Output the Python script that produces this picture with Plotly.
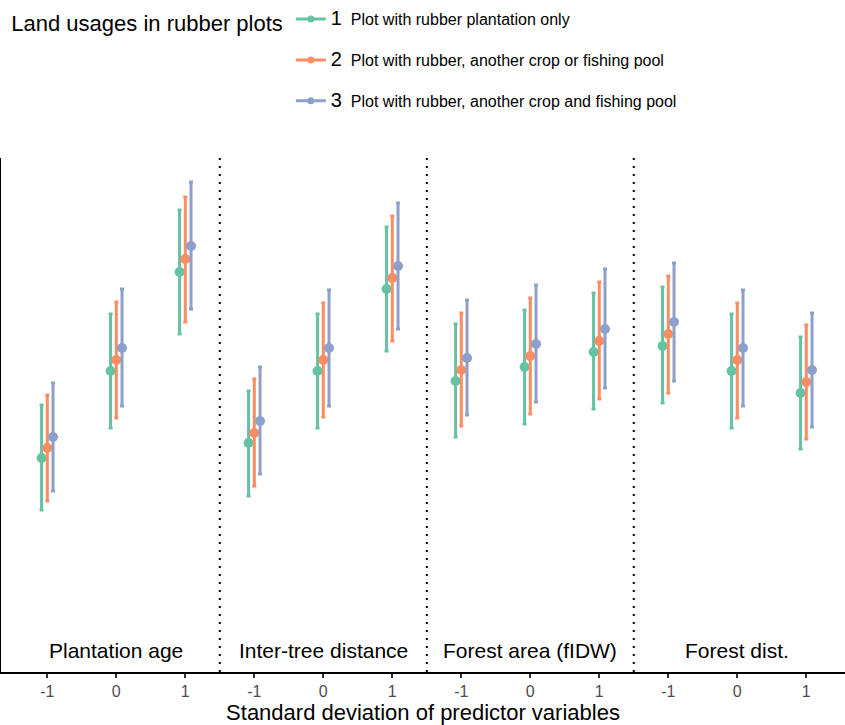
import plotly.graph_objects as go

# Predictor panels and standardised levels
predictors = ["Plantation age", "Inter-tree distance", "Forest area (fIDW)", "Forest dist."]
levels = ["-1", "0", "1"]

# Land-usage groups
group_names = [
    "Plot with rubber plantation only",
    "Plot with rubber, another crop or fishing pool",
    "Plot with rubber, another crop and fishing pool",
]
group_colors = ["#66c2a5", "#fc8d62", "#8da0cb"]

# Predicted means and 95% interval bounds, ordered panel by panel (-1, 0, 1)
mean_g1 = [2.14, 3.01, 4.00, 2.29, 3.01, 3.83, 2.91, 3.05, 3.20, 3.26, 3.01, 2.79]
low_g1 = [1.62, 2.44, 3.38, 1.76, 2.44, 3.21, 2.35, 2.48, 2.63, 2.69, 2.44, 2.23]
high_g1 = [2.67, 3.58, 4.62, 2.81, 3.58, 4.45, 3.48, 3.62, 3.79, 3.85, 3.58, 3.35]

mean_g2 = [2.24, 3.12, 4.13, 2.39, 3.12, 3.94, 3.02, 3.16, 3.31, 3.38, 3.12, 2.90]
low_g2 = [1.71, 2.54, 3.50, 1.86, 2.55, 3.31, 2.46, 2.58, 2.73, 2.79, 2.54, 2.33]
high_g2 = [2.77, 3.70, 4.75, 2.93, 3.69, 4.56, 3.59, 3.74, 3.90, 3.96, 3.69, 3.47]

mean_g3 = [2.35, 3.24, 4.26, 2.51, 3.24, 4.06, 3.14, 3.28, 3.43, 3.50, 3.24, 3.02]
low_g3 = [1.81, 2.66, 3.63, 1.98, 2.66, 3.43, 2.57, 2.70, 2.84, 2.91, 2.66, 2.45]
high_g3 = [2.89, 3.83, 4.90, 3.05, 3.82, 4.69, 3.72, 3.87, 4.03, 4.09, 3.82, 3.59]

means = [mean_g1, mean_g2, mean_g3]
lows = [low_g1, low_g2, low_g3]
highs = [high_g1, high_g2, high_g3]

FONT = "Liberation Sans, Arial, Helvetica, sans-serif"
n_pos = len(predictors) * len(levels)
positions = list(range(n_pos))
dodge = [-0.083, 0.0, 0.083]

fig = go.Figure()

for g in range(3):
    xs = [p + dodge[g] for p in positions]
    m = means[g]
    fig.add_trace(go.Scatter(
        x=xs, y=m, mode="markers",
        marker=dict(color=group_colors[g], size=10),
        error_y=dict(
            type="data", symmetric=False,
            array=[h - v for h, v in zip(highs[g], m)],
            arrayminus=[v - l for l, v in zip(lows[g], m)],
            color=group_colors[g], thickness=3, width=2,
        ),
        showlegend=False, hoverinfo="skip",
    ))

# Legend keys: short line with a point, one entry per land-usage group
for g in range(3):
    fig.add_trace(go.Scatter(
        x=[None], y=[None], mode="lines+markers",
        line=dict(color=group_colors[g], width=3),
        marker=dict(color=group_colors[g], size=7),
        name=f"<span style='font-size:20px'>{g + 1}</span>&nbsp;&nbsp;{group_names[g]}",
        legendgroup=f"g{g + 1}",
    ))

# Dotted separators between predictor panels
for k in range(1, len(predictors)):
    fig.add_shape(
        type="line", xref="x", yref="paper",
        x0=3 * k - 0.5, x1=3 * k - 0.5, y0=0, y1=1,
        line=dict(color="black", width=2, dash="2px,6px"),
    )

# Panel labels along the bottom of each panel
for k, name in enumerate(predictors):
    fig.add_annotation(
        x=3 * k + 1, y=0.22, xref="x", yref="y",
        text=name, showarrow=False, yanchor="middle",
        font=dict(family=FONT, size=21, color="black"),
    )

fig.update_xaxes(
    range=[-0.671, 11.561],
    tickmode="array", tickvals=positions, ticktext=levels * len(predictors),
    ticks="outside", ticklen=4, tickwidth=1.5, tickcolor="#333333",
    tickfont=dict(family=FONT, size=16, color="#4d4d4d"),
    showline=True, linecolor="black", linewidth=2,
    showgrid=False, zeroline=False,
    title=dict(text="Standard deviation of predictor variables",
               font=dict(family=FONT, size=22, color="black"), standoff=6),
)
fig.update_yaxes(
    range=[0, 5.14], showticklabels=False, ticks="",
    showline=True, linecolor="black", linewidth=2,
    showgrid=False, zeroline=False,
)

fig.update_layout(
    width=845, height=725,
    margin=dict(l=1, r=0, t=158, b=53, autoexpand=False),
    plot_bgcolor="white", paper_bgcolor="white",
    font=dict(family=FONT, color="black"),
    legend=dict(
        title=dict(text="Land usages in rubber plots",
                   font=dict(family=FONT, size=22, color="black"), side="left"),
        font=dict(family=FONT, size=16, color="black"),
        xref="container", yref="container",
        x=0.011, y=0.997, xanchor="left", yanchor="top",
        orientation="v", tracegroupgap=17,
        bgcolor="rgba(0,0,0,0)",
    ),
)

fig.write_html("out.html")
